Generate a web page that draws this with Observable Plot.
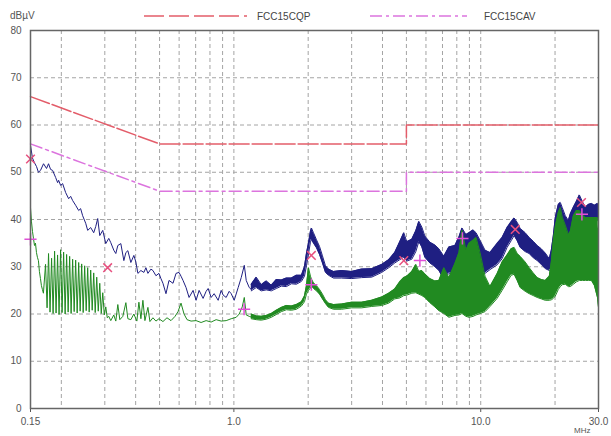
<!DOCTYPE html>
<html><head><meta charset="utf-8">
<script src="https://cdn.jsdelivr.net/npm/d3@7"></script>
<script src="https://cdn.jsdelivr.net/npm/@observablehq/plot@0.6"></script>
<style>
body{margin:0;background:#fff;font-family:"Liberation Sans",Arial,sans-serif;}
#wrap{position:relative;width:611px;height:436px;overflow:hidden;background:#fff;}
#legend{position:absolute;left:0;top:0;width:611px;height:24px;}
#chart{position:absolute;left:0;top:24px;}
.t{position:absolute;font-size:10px;color:#555;white-space:nowrap;line-height:10px;}
</style></head><body>
<div id="wrap"><div id="legend"></div><div id="chart"></div>
<div class="t" style="left:10px;top:11px;">dBµV</div>
<div class="t" style="left:574px;top:427px;font-size:8px;line-height:8px;">MHz</div>
</div>
<script>
// ---- data ----
const seriesNames = ["FCC15CQP", "FCC15CAV"];
const xTicks = [0.15, 1, 10, 30];
const xTickLabels = ["0.15", "1.0", "10.0", "30.0"];
const yTicks = [0, 10, 20, 30, 40, 50, 60, 70, 80];
const gridX = [0.2,0.3,0.4,0.5,0.6,0.7,0.8,0.9,1,2,3,4,5,6,7,8,9,10,20];
const gridY = [10,20,30,40,50,60,70];

const qpLimitF = [0.15, 0.5, 5, 5, 30];
const qpLimitV = [66, 56, 56, 60, 60];
const avLimitF = [0.15, 0.5, 5, 5, 30];
const avLimitV = [56, 46, 46, 50, 50];

// peak trace (navy), thin jagged part
const peakLineF = [0.150,0.1528,0.1557,0.1587,0.1615,0.1647,0.1694,0.1742,0.1775,0.1809,0.1843,0.1896,0.1932,0.1950,0.1987,0.2024,0.2082,0.2141,0.2182,0.2223,0.2286,0.2351,0.2394,0.2440,0.2510,0.2557,0.2630,0.2705,0.2756,0.2808,0.2862,0.2943,0.3027,0.3113,0.3172,0.3262,0.3324,0.3387,0.3484,0.3583,0.3651,0.3720,0.3825,0.3934,0.4008,0.4084,0.4201,0.4320,0.4402,0.4485,0.4612,0.4700,0.4834,0.4971,0.5064,0.5161,0.5308,0.5459,0.5668,0.5829,0.5995,0.6108,0.6224,0.6401,0.6584,0.6835,0.7029,0.7230,0.7505,0.7719,0.7865,0.8089,0.8319,0.8637,0.8883,0.9048,0.9307,0.9571,0.9754,1.003,1.041,1.071,1.102,1.122,1.154,1.176];
const peakLineV = [55.7,53.0,52.0,51.2,50.0,50.4,51.8,50.8,51.8,50.6,50.4,48.9,47.8,48.3,47.2,47.6,45.7,44.4,44.9,44.0,43.0,41.9,42.3,40.8,39.2,37.7,38.3,37.2,38.5,40.2,36.6,37.7,34.9,36.0,35.1,33.5,32.8,34.5,34.9,31.3,33.0,33.4,30.9,32.4,31.0,28.6,29.2,28.8,29.8,28.6,29.5,29.2,28.1,28.6,27.5,26.5,24.3,27.1,26.5,28.6,28.8,28.0,27.1,25.6,23.5,25.0,22.9,25.0,23.3,24.8,25.4,23.5,24.3,22.9,25.0,24.0,23.5,24.8,24.3,22.9,25.6,27.7,30.3,27.1,25.6,25.2];

// peak trace (navy), dense band part
const peakBandF = [1.176,1.232,1.291,1.353,1.418,1.486,1.557,1.632,1.710,1.792,1.878,1.932,1.968,2.005,2.043,2.062,2.101,2.161,2.223,2.285,2.350,2.417,2.533,2.730,2.999,3.293,3.617,3.972,4.240,4.485,4.700,4.879,5.018,5.258,5.458,5.613,5.773,5.938,6.223,6.521,6.770,7.093,7.432,7.863,8.164,8.397,8.716,8.965,9.308,9.573,9.937,10.41,10.91,11.65,12.21,12.79,13.28,13.66,14.05,14.45,15.14,15.72,16.32,16.94,17.59,18.26,18.96,19.32,19.68,20.05,20.62,21.01,21.40,22.01,22.65,23.07,23.73,24.40,25.10,25.81,26.55,27.30,28.09,28.89,29.71,30];
const peakBandLo = [24.9,25.6,24.9,25.1,24.9,25.4,25.9,25.8,26.4,26.3,26.9,28.0,30.2,32.7,35.2,35.8,35.0,34.0,32.6,30.8,28.8,28.2,27.6,27.6,27.5,27.7,27.8,28.8,29.8,30.8,31.5,32.0,31.2,31.6,33.2,35.3,34.2,32.0,30.8,30.0,29.2,27.3,28.6,28.8,30.5,31.7,31.0,31.3,32.0,31.6,29.6,28.6,29.4,30.4,31.7,34.1,35.5,36.6,35.5,34.1,33.2,32.8,31.9,31.3,30.5,29.6,29.2,29.6,31.5,36.2,39.3,39.7,38.4,37.0,36.2,37.0,38.2,40.0,41.3,40.0,39.2,39.4,39.4,39.3,39.8,39.8];
const peakBandHi = [26.3,27.8,26.2,27.0,26.1,27.3,27.2,27.6,27.6,28.2,28.2,30.0,32.8,35.0,37.5,38.2,37.2,35.7,34.3,32.3,30.2,29.5,29.0,29.2,29.0,29.5,29.6,30.5,31.5,33.0,35.3,37.2,35.3,35.8,37.6,39.6,38.4,36.5,35.2,34.6,33.8,32.2,34.2,34.5,36.3,38.2,36.8,37.2,37.8,37.2,35.6,33.5,33.0,34.9,36.2,38.3,39.5,40.3,39.4,38.1,37.2,36.2,35.4,34.5,33.8,32.9,31.7,33.5,36.5,40.4,43.2,43.6,42.5,40.8,39.8,41.2,42.6,43.8,45.2,43.8,42.6,43.2,43.4,43.0,43.4,43.2];

// average trace (green), thin part with comb
const avgLineF = [0.150,0.1514,0.1528,0.1542,0.1557,0.1571,0.1586,0.1600,0.1615,0.1630,0.1646,0.1661,0.1676,0.1692,0.1726,0.1751,0.1775,0.1800,0.1826,0.1852,0.1878,0.1904,0.1931,0.1958,0.1986,0.2014,0.2043,0.2072,0.2101,0.2131,0.2161,0.2191,0.2222,0.2254,0.2286,0.2318,0.2351,0.2384,0.2418,0.2452,0.2486,0.2522,0.2557,0.2593,0.2630,0.2667,0.2705,0.2743,0.2782,0.2822,0.2862,0.2902,0.2943,0.2985,0.3027,0.3070,0.3113,0.3172,0.3262,0.3324,0.3387,0.3451,0.3549,0.3651,0.3720,0.3825,0.3934,0.4046,0.4123,0.4201,0.4280,0.4361,0.4485,0.4570,0.4700,0.4834,0.4971,0.5161,0.5358,0.5563,0.5775,0.5939,0.6108,0.6282,0.6461,0.6708,0.7029,0.7366,0.7719,0.8089,0.8476,0.8883,0.9307,0.9754,1.0219,1.0512,1.0812,1.102,1.122,1.154,1.198];
const avgLineV = [42.5,39.5,37.5,36.0,34.5,35.0,33.0,32.0,31.3,29.0,27.5,26.0,25.2,24.4,30.5,21.3,32.8,20.4,31.8,20.1,33.3,20.2,32.5,19.9,33.6,20.3,33.1,20.0,32.6,20.4,32.2,20.1,31.6,20.5,31.4,20.2,30.9,20.6,30.6,20.3,30.2,20.7,29.8,20.4,29.3,20.8,28.7,20.3,27.8,20.6,26.5,20.1,24.5,19.8,21.5,19.2,19.5,18.6,19.8,18.5,22.0,18.8,19.5,22.4,19.0,18.8,20.0,18.5,22.5,19.0,22.9,18.6,21.4,18.4,19.2,18.5,19.0,18.4,19.2,18.6,19.5,20.5,22.3,20.0,18.8,18.5,18.6,18.2,18.6,18.3,18.8,18.5,18.6,19.0,19.3,20.0,21.5,23.5,19.8,19.5,19.2];

// average trace (green), dense band part
const avgBandF = [1.176,1.232,1.291,1.353,1.418,1.486,1.557,1.632,1.710,1.792,1.878,1.932,1.968,2.005,2.043,2.062,2.101,2.161,2.223,2.285,2.350,2.417,2.533,2.730,2.999,3.293,3.617,3.972,4.240,4.485,4.700,4.879,5.018,5.258,5.458,5.613,5.773,5.938,6.223,6.521,6.770,7.093,7.432,7.863,8.164,8.397,8.716,8.965,9.308,9.573,9.937,10.41,10.91,11.65,12.21,12.79,13.28,13.66,14.05,14.45,15.14,15.72,16.32,16.94,17.59,18.26,18.96,19.32,19.68,20.05,20.62,21.01,21.40,22.01,22.65,23.07,23.73,24.40,25.10,25.81,26.55,27.30,28.09,28.89,29.71,30];
const avgBandLo = [19.0,18.8,18.7,18.9,19.3,19.9,20.5,20.9,20.8,21.0,21.7,22.6,24.2,25.0,25.5,26.0,25.4,24.9,24.2,23.2,22.2,21.4,21.0,21.0,21.3,21.3,21.6,21.8,22.3,23.2,23.4,23.9,24.0,24.4,24.5,24.2,23.9,23.5,22.4,21.5,20.7,20.1,19.3,19.7,19.8,20.1,19.5,19.3,19.5,19.8,20.1,20.5,21.6,23.3,25.0,26.8,28.2,28.4,27.1,25.6,24.8,24.3,23.9,23.5,23.2,22.9,22.9,23.0,23.3,23.8,25.2,25.8,26.2,26.3,25.8,25.8,26.3,26.8,27.1,27.1,27.1,27.1,27.1,26.0,23.5,21.4];
const avgBandHi = [20.0,19.6,19.5,19.7,20.1,20.8,21.4,21.8,21.7,22.0,22.6,23.8,26.0,29.8,28.0,27.4,26.6,26.0,25.2,24.2,23.0,22.3,22.0,22.1,22.5,22.5,22.9,23.6,24.4,25.3,26.8,27.7,28.0,29.0,30.5,29.0,29.2,28.5,27.5,27.0,27.1,29.8,27.7,30.7,33.0,37.7,33.5,35.0,35.6,36.2,33.0,28.0,25.8,28.5,31.0,32.5,33.8,34.1,32.8,32.2,31.0,29.8,28.7,27.7,27.3,27.1,28.0,31.0,35.5,38.5,41.5,42.5,40.5,38.8,36.8,37.5,40.8,41.9,41.9,41.0,40.4,40.4,40.4,40.4,40.4,38.0];

// measured points
const qpMarkF = [0.15, 0.308, 2.06, 4.88, 13.8, 25.6];
const qpMarkV = [52.8, 29.8, 32.4, 31.3, 37.9, 43.6];
const avMarkF = [0.15, 1.10, 2.06, 5.67, 8.43, 25.7];
const avMarkV = [35.8, 21.0, 26.2, 31.3, 36.0, 41.1];

// ---- build tables ----
const toPts = (F, V) => F.map((f, i) => ({f, v: V[i]}));
const toBand = (F, L, H) => F.map((f, i) => ({f, lo: L[i], hi: H[i]}));
const peakLine = toPts(peakLineF, peakLineV);
const peakBand = toBand(peakBandF, peakBandLo, peakBandHi);
const avgLine = toPts(avgLineF, avgLineV);
const avgBand = toBand(avgBandF, avgBandLo, avgBandHi);
const qpLimit = toPts(qpLimitF, qpLimitV);
const avLimit = toPts(avLimitF, avLimitV);
const qpMarks = toPts(qpMarkF, qpMarkV);
const avMarks = toPts(avMarkF, avMarkV);

const NAVY = "#1f1f82", GREEN = "#218a21", QP = "#e35d6a", AV = "#dc74de";
const gridStyle = {stroke: "#a4a4a4", strokeDasharray: "4,3", strokeWidth: 1};

const chart = Plot.plot({
  width: 611, height: 412,
  marginTop: 6, marginBottom: 28, marginLeft: 30, marginRight: 13,
  style: {fontFamily: "Liberation Sans, Arial, sans-serif", fontSize: "10px", color: "#555", background: "#fff"},
  x: {type: "log", domain: [0.15, 30], ticks: xTicks, tickFormat: d => xTickLabels[xTicks.indexOf(d)], tickSize: 4, tickPadding: 5, label: null},
  y: {domain: [0, 80], ticks: yTicks, tickSize: 0, tickPadding: 9, label: null},
  marks: [
    Plot.ruleY(gridY, gridStyle),
    Plot.ruleX(gridX, gridStyle),
    Plot.areaY(peakBand, {x: "f", y1: "lo", y2: "hi", fill: NAVY}),
    Plot.lineY(peakBand, {x: "f", y: "hi", stroke: NAVY, strokeWidth: 1}),
    Plot.lineY(peakBand, {x: "f", y: "lo", stroke: NAVY, strokeWidth: 1}),
    Plot.lineY(peakLine, {x: "f", y: "v", stroke: NAVY, strokeWidth: 1}),
    Plot.areaY(avgBand, {x: "f", y1: "lo", y2: "hi", fill: GREEN}),
    Plot.lineY(avgBand, {x: "f", y: "hi", stroke: GREEN, strokeWidth: 1}),
    Plot.lineY(avgBand, {x: "f", y: "lo", stroke: GREEN, strokeWidth: 1}),
    Plot.lineY(avgLine, {x: "f", y: "v", stroke: GREEN, strokeWidth: 1}),
    Plot.line(qpLimit, {x: "f", y: "v", stroke: QP, strokeWidth: 1.5, strokeDasharray: "20,3"}),
    Plot.line(avLimit, {x: "f", y: "v", stroke: AV, strokeWidth: 1.5, strokeDasharray: "12,4,3,4"}),
    Plot.dot(qpMarks, {x: "f", y: "v", symbol: "times", r: 4, stroke: "#e8507f", strokeWidth: 1.5}),
    Plot.dot(avMarks, {x: "f", y: "v", symbol: "plus", r: 4, stroke: "#e050d6", strokeWidth: 1.5}),
    Plot.frame({stroke: "#666", strokeWidth: 1.5})
  ]
});
document.getElementById("chart").appendChild(chart);

// legend
const lg = d3.select("#legend").append("svg").attr("width", 611).attr("height", 24);
const legendItems = [
  {name: seriesNames[0], color: QP, dash: "20,5", x0: 144, x1: 247, tx: 257},
  {name: seriesNames[1], color: AV, dash: "12,4,3,4", x0: 370, x1: 467, tx: 484}
];
legendItems.forEach(it => {
  lg.append("line").attr("x1", it.x0).attr("x2", it.x1).attr("y1", 16).attr("y2", 16)
    .attr("stroke", it.color).attr("stroke-width", 1.5).attr("stroke-dasharray", it.dash);
  lg.append("text").attr("x", it.tx).attr("y", 20).text(it.name)
    .attr("font-size", 10).attr("fill", "#444").attr("font-family", "Liberation Sans, Arial, sans-serif");
});
</script>
</body></html>
